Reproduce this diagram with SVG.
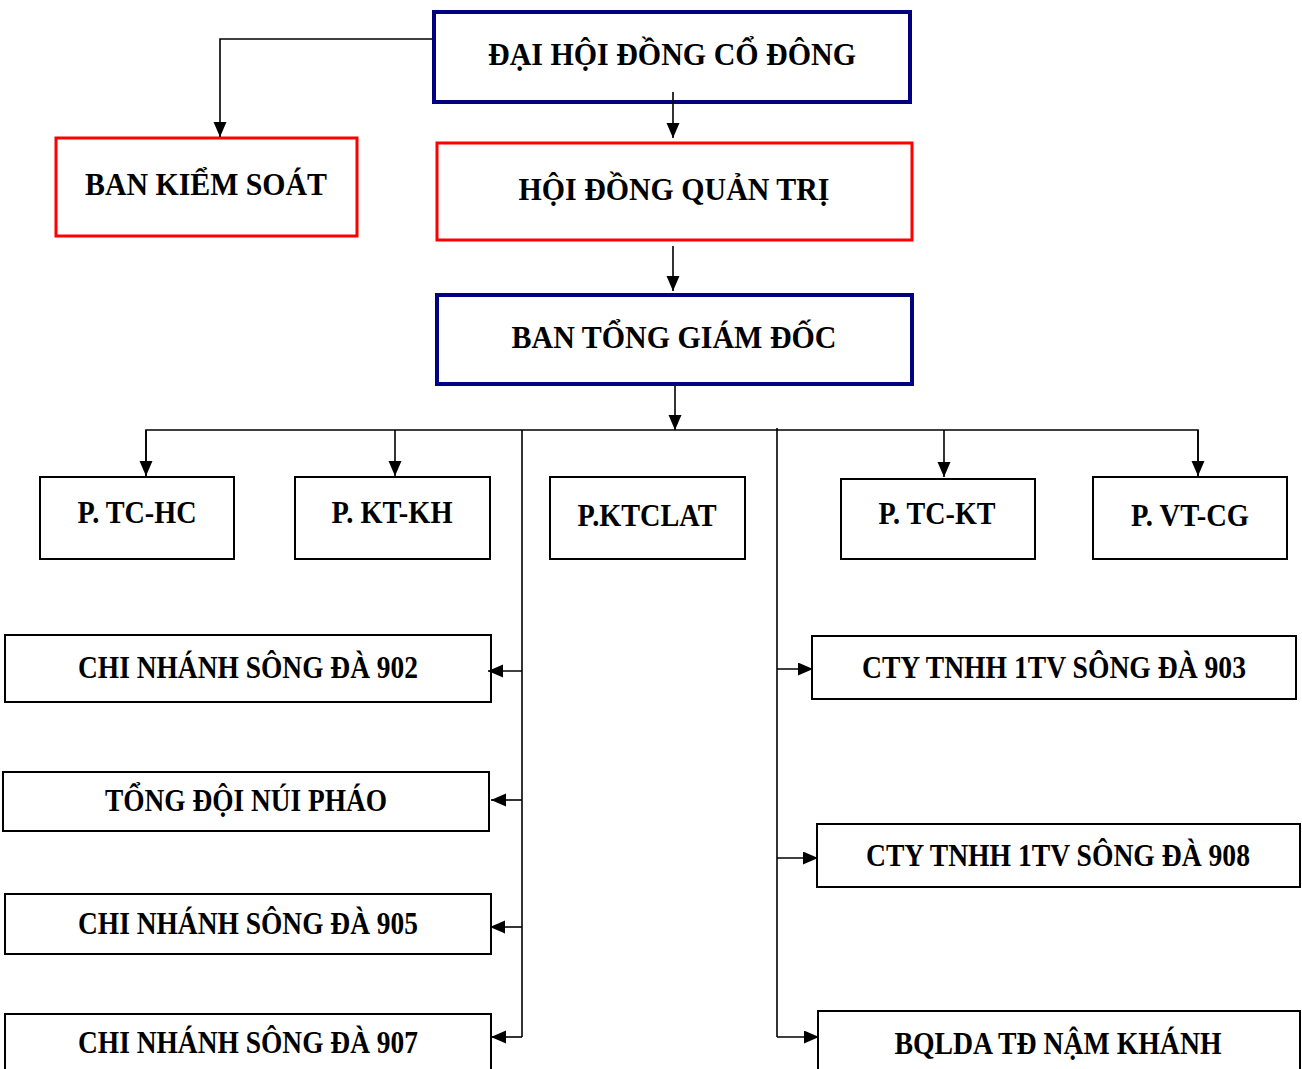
<svg xmlns="http://www.w3.org/2000/svg" width="1302" height="1069" viewBox="0 0 1302 1069">
<style>
.bg{fill:#ffffff}
.navy{fill:#ffffff;stroke:#000080;stroke-width:4}
.red{fill:#ffffff;stroke:#ff0000;stroke-width:3}
.blk{fill:#ffffff;stroke:#000000;stroke-width:2}
.t{font-family:"Liberation Serif","Times New Roman",serif;font-weight:bold;font-size:32px;fill:#000000;text-anchor:middle}
.s{font-size:31px}
.c{fill:none;stroke:#000000;stroke-width:1.6}
</style>
<defs>
<marker id="ah" markerUnits="userSpaceOnUse" markerWidth="16" markerHeight="14" refX="15" refY="6.5" orient="auto">
<path d="M0,0 L15,6.5 L0,13 Z" fill="#000000"/>
</marker>
</defs>
<rect class="bg" x="0" y="0" width="1302" height="1069"/>
<g id="n_dhdcd">
<rect class="navy" x="434" y="12" width="476" height="90"/>
<text class="t" x="672" y="65" textLength="368" lengthAdjust="spacingAndGlyphs">ĐẠI HỘI ĐỒNG CỔ ĐÔNG</text>
</g>
<g id="n_bks">
<rect class="red" x="56" y="138" width="301" height="98"/>
<text class="t" x="206" y="195" textLength="242" lengthAdjust="spacingAndGlyphs">BAN KIỂM SOÁT</text>
</g>
<g id="n_hdqt">
<rect class="red" x="437" y="143" width="475" height="97"/>
<text class="t" x="674" y="200" textLength="311" lengthAdjust="spacingAndGlyphs">HỘI ĐỒNG QUẢN TRỊ</text>
</g>
<g id="n_btgd">
<rect class="navy" x="437" y="295" width="475" height="89"/>
<text class="t" x="674" y="348" textLength="325" lengthAdjust="spacingAndGlyphs">BAN TỔNG GIÁM ĐỐC</text>
</g>
<g id="n_tchc">
<rect class="blk" x="40" y="477" width="194" height="82"/>
<text class="t s" x="137" y="523" textLength="119" lengthAdjust="spacingAndGlyphs">P. TC-HC</text>
</g>
<g id="n_ktkh">
<rect class="blk" x="295" y="477" width="195" height="82"/>
<text class="t s" x="392" y="523" textLength="121" lengthAdjust="spacingAndGlyphs">P. KT-KH</text>
</g>
<g id="n_ktclat">
<rect class="blk" x="550" y="477" width="195" height="82"/>
<text class="t s" x="647" y="526" textLength="139" lengthAdjust="spacingAndGlyphs">P.KTCLAT</text>
</g>
<g id="n_tckt">
<rect class="blk" x="841" y="479" width="194" height="80"/>
<text class="t s" x="937" y="524" textLength="117" lengthAdjust="spacingAndGlyphs">P. TC-KT</text>
</g>
<g id="n_vtcg">
<rect class="blk" x="1093" y="477" width="194" height="82"/>
<text class="t s" x="1190" y="526" textLength="118" lengthAdjust="spacingAndGlyphs">P. VT-CG</text>
</g>
<g id="n_cn902">
<rect class="blk" x="5" y="635" width="486" height="67"/>
<text class="t s" x="248" y="678" textLength="340" lengthAdjust="spacingAndGlyphs">CHI NHÁNH SÔNG ĐÀ 902</text>
</g>
<g id="n_tdnp">
<rect class="blk" x="3" y="772" width="486" height="59"/>
<text class="t s" x="246" y="811" textLength="282" lengthAdjust="spacingAndGlyphs">TỔNG ĐỘI NÚI PHÁO</text>
</g>
<g id="n_cn905">
<rect class="blk" x="5" y="894" width="486" height="60"/>
<text class="t s" x="248" y="934" textLength="340" lengthAdjust="spacingAndGlyphs">CHI NHÁNH SÔNG ĐÀ 905</text>
</g>
<g id="n_cn907">
<rect class="blk" x="5" y="1014" width="486" height="70"/>
<text class="t s" x="248" y="1053" textLength="340" lengthAdjust="spacingAndGlyphs">CHI NHÁNH SÔNG ĐÀ 907</text>
</g>
<g id="n_cty903">
<rect class="blk" x="812" y="636" width="484" height="63"/>
<text class="t s" x="1054" y="678" textLength="384" lengthAdjust="spacingAndGlyphs">CTY TNHH 1TV SÔNG ĐÀ 903</text>
</g>
<g id="n_cty908">
<rect class="blk" x="817" y="824" width="483" height="63"/>
<text class="t s" x="1058" y="866" textLength="384" lengthAdjust="spacingAndGlyphs">CTY TNHH 1TV SÔNG ĐÀ 908</text>
</g>
<g id="n_bqlda">
<rect class="blk" x="818" y="1011" width="482" height="73"/>
<text class="t s" x="1058" y="1054" textLength="327" lengthAdjust="spacingAndGlyphs">BQLDA TĐ NẬM KHÁNH</text>
</g>
<g id="connectors">
<path class="c" d="M432,39 H220 V137" marker-end="url(#ah)"/>
<path class="c" d="M673,92 V138" marker-end="url(#ah)"/>
<path class="c" d="M673,246 V291" marker-end="url(#ah)"/>
<path class="c" d="M675,386 V430" marker-end="url(#ah)"/>
<path class="c" d="M146,476 V430 H1198 V476"/>
<path class="c" d="M146,430 V476" marker-end="url(#ah)"/>
<path class="c" d="M395,430 V476" marker-end="url(#ah)"/>
<path class="c" d="M944,430 V477" marker-end="url(#ah)"/>
<path class="c" d="M1198,430 V476" marker-end="url(#ah)"/>
<path class="c" d="M522,430 V1037"/>
<path class="c" d="M777,428 V1037"/>
<path class="c" d="M522,671 H488" marker-end="url(#ah)"/>
<path class="c" d="M522,800 H491" marker-end="url(#ah)"/>
<path class="c" d="M522,927 H490" marker-end="url(#ah)"/>
<path class="c" d="M522,1037 H491" marker-end="url(#ah)"/>
<path class="c" d="M777,669 H813" marker-end="url(#ah)"/>
<path class="c" d="M777,858 H818" marker-end="url(#ah)"/>
<path class="c" d="M777,1037 H819" marker-end="url(#ah)"/>
</g>
</svg>
